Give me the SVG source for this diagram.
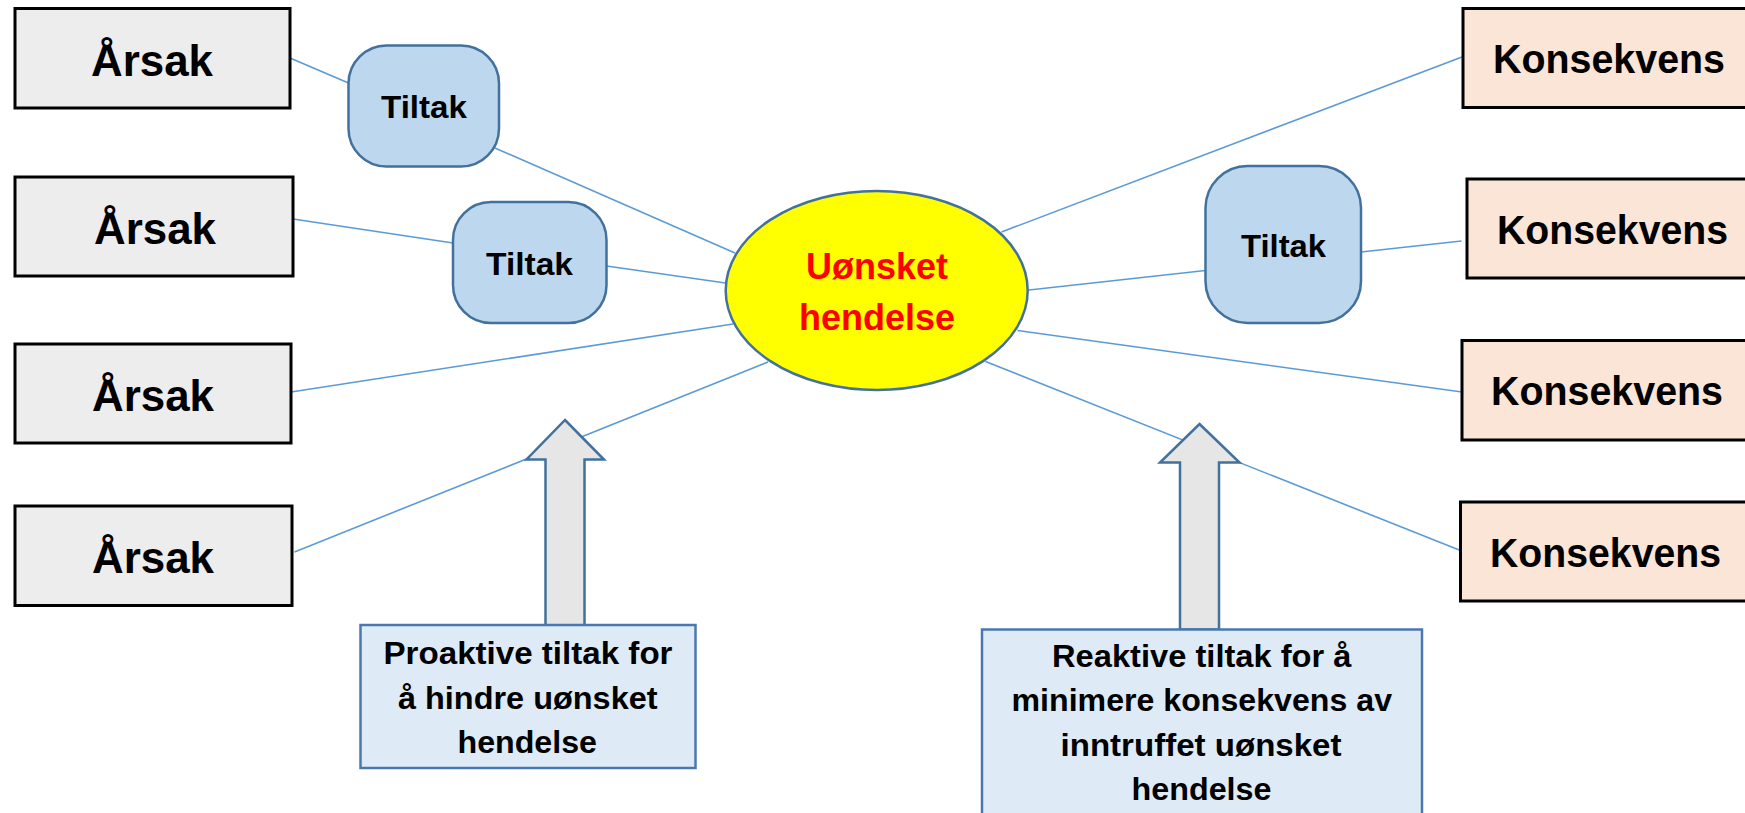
<svg xmlns="http://www.w3.org/2000/svg" width="1745" height="813" viewBox="0 0 1745 813">
<style>
.conn{stroke:#5B9BD5;stroke-width:1.6;fill:none}
.arsak{fill:#EDEDED;stroke:#000;stroke-width:3}
.kons{fill:#FBE5D6;stroke:#000;stroke-width:3}
.tiltak{fill:#BDD7EE;stroke:#41719C;stroke-width:2.5}
.ev{fill:#FFFF00;stroke:#41719C;stroke-width:2.5}
.arrow{fill:#E7E6E6;stroke:#41719C;stroke-width:2.5;stroke-linejoin:miter}
.note{fill:#DEEBF7;stroke:#4A78AE;stroke-width:2.5}
text{font-family:"Liberation Sans",Arial,sans-serif;font-weight:bold;fill:#000}
.big{font-size:44px}
.kt{font-size:40px}
.mid{font-size:32px}
.red{font-size:36px;fill:#FF0000}
</style>
<g id="connectors">
<line class="conn" x1="290" y1="58" x2="348.5" y2="83"/>
<line class="conn" x1="495" y1="148" x2="735" y2="253"/>
<line class="conn" x1="293" y1="219" x2="453" y2="243"/>
<line class="conn" x1="606.5" y1="266" x2="725.5" y2="283"/>
<line class="conn" x1="291" y1="392" x2="733" y2="324"/>
<line class="conn" x1="294.5" y1="552" x2="768" y2="362"/>
<line class="conn" x1="1001.5" y1="232" x2="1462" y2="57"/>
<line class="conn" x1="1029" y1="290" x2="1205.5" y2="270.5"/>
<line class="conn" x1="1361" y1="252" x2="1461.5" y2="241"/>
<line class="conn" x1="1017.5" y1="330.5" x2="1462" y2="392"/>
<line class="conn" x1="985.5" y1="361.5" x2="1460.5" y2="550.5"/>
</g>
<g id="arsak1"><rect class="arsak" x="15" y="8.5" width="275" height="99.5"/><text class="big" x="91" y="76" textLength="122" lengthAdjust="spacingAndGlyphs">Årsak</text></g>
<g id="arsak2"><rect class="arsak" x="15" y="177" width="278" height="99"/><text class="big" x="94" y="244" textLength="122" lengthAdjust="spacingAndGlyphs">Årsak</text></g>
<g id="arsak3"><rect class="arsak" x="15" y="344" width="276" height="99"/><text class="big" x="92" y="411" textLength="122" lengthAdjust="spacingAndGlyphs">Årsak</text></g>
<g id="arsak4"><rect class="arsak" x="15" y="506" width="277" height="99.5"/><text class="big" x="92" y="573" textLength="122" lengthAdjust="spacingAndGlyphs">Årsak</text></g>
<g id="tiltak1"><rect class="tiltak" x="348.5" y="45.5" width="150.5" height="121" rx="38" ry="38"/><text class="mid" x="381" y="117.5" textLength="86" lengthAdjust="spacingAndGlyphs">Tiltak</text></g>
<g id="tiltak2"><rect class="tiltak" x="453" y="202" width="153.5" height="121" rx="38" ry="38"/><text class="mid" x="486" y="275" textLength="87" lengthAdjust="spacingAndGlyphs">Tiltak</text></g>
<g id="tiltak3"><rect class="tiltak" x="1205.5" y="166" width="155.5" height="157" rx="42" ry="42"/><text class="mid" x="1241" y="257" textLength="85" lengthAdjust="spacingAndGlyphs">Tiltak</text></g>
<g id="hendelse"><ellipse class="ev" cx="876.7" cy="290.5" rx="151" ry="99.5"/><text class="red" x="877" y="278.5" text-anchor="middle">Uønsket</text><text class="red" x="877" y="330" text-anchor="middle">hendelse</text></g>
<g id="kons1"><rect class="kons" x="1463" y="8.5" width="283.6" height="99"/><text class="kt" x="1493" y="73" textLength="232" lengthAdjust="spacingAndGlyphs">Konsekvens</text></g>
<g id="kons2"><rect class="kons" x="1467" y="179" width="279.6" height="99"/><text class="kt" x="1497" y="243.5" textLength="231" lengthAdjust="spacingAndGlyphs">Konsekvens</text></g>
<g id="kons3"><rect class="kons" x="1462" y="340.5" width="284.6" height="99.5"/><text class="kt" x="1491" y="405" textLength="232" lengthAdjust="spacingAndGlyphs">Konsekvens</text></g>
<g id="kons4"><rect class="kons" x="1460.5" y="502" width="286.1" height="99"/><text class="kt" x="1490" y="566.5" textLength="231" lengthAdjust="spacingAndGlyphs">Konsekvens</text></g>
<g id="arrow-pro"><polygon class="arrow" points="565,420 604,459.5 584.5,459.5 584.5,626 545.5,626 545.5,459.5 526.5,459.5"/></g>
<g id="arrow-re"><polygon class="arrow" points="1199.5,424 1239.5,462.5 1219,462.5 1219,629.5 1180,629.5 1180,462.5 1160,462.5"/></g>
<g id="proaktiv"><rect class="note" x="360.5" y="625" width="335" height="143"/>
<text class="mid" x="383.5" y="663.5" textLength="289" lengthAdjust="spacingAndGlyphs">Proaktive tiltak for</text>
<text class="mid" x="398" y="708.5" textLength="259.5" lengthAdjust="spacingAndGlyphs">å hindre uønsket</text>
<text class="mid" x="457.5" y="752.5" textLength="139.5" lengthAdjust="spacingAndGlyphs">hendelse</text></g>
<g id="reaktiv"><rect class="note" x="982" y="629.5" width="440" height="185"/>
<text class="mid" x="1052" y="667" textLength="299.5" lengthAdjust="spacingAndGlyphs">Reaktive tiltak for å</text>
<text class="mid" x="1011.5" y="711" textLength="380.5" lengthAdjust="spacingAndGlyphs">minimere konsekvens av</text>
<text class="mid" x="1060.5" y="756" textLength="281" lengthAdjust="spacingAndGlyphs">inntruffet uønsket</text>
<text class="mid" x="1131.5" y="800" textLength="140" lengthAdjust="spacingAndGlyphs">hendelse</text></g>
</svg>
